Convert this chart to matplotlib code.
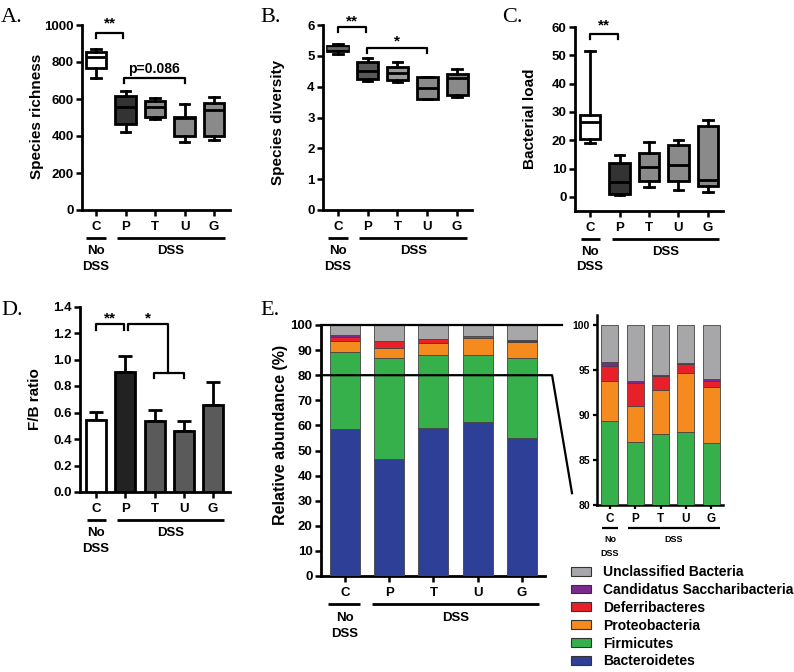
import matplotlib
matplotlib.use('Agg')
import matplotlib.pyplot as plt
import matplotlib.transforms as mtransforms
from matplotlib.patches import Patch

W, H = 794, 672
plt.rcParams['font.family'] = ['Liberation Sans', 'DejaVu Sans']
plt.rcParams['font.weight'] = 'bold'
plt.rcParams['axes.labelweight'] = 'bold'

groups = ['C', 'P', 'T', 'U', 'G']

# A: species richness (box stats)
rich_whislo = [712, 420, 492, 369, 378]
rich_q1 = [766, 463, 501, 402, 400]
rich_med = [829, 559, 555, 495, 540]
rich_q3 = [856, 618, 591, 505, 580]
rich_whishi = [868, 643, 604, 571, 613]

# B: species diversity
div_whislo = [5.07, 4.19, 4.14, 3.59, 3.68]
div_q1 = [5.17, 4.25, 4.22, 3.59, 3.73]
div_med = [5.25, 4.51, 4.45, 3.97, 4.27]
div_q3 = [5.33, 4.79, 4.65, 4.30, 4.41]
div_whishi = [5.37, 4.94, 4.79, 4.30, 4.56]

# C: bacterial load
load_whislo = [19.0, 0.5, 3.5, 2.3, 1.8]
load_q1 = [20.4, 1.0, 5.5, 5.7, 3.8]
load_med = [26.4, 5.2, 10.4, 11.1, 6.1]
load_q3 = [28.8, 12.0, 15.5, 18.2, 25.2]
load_whishi = [51.5, 14.7, 19.2, 20.2, 27.2]

# D: F/B ratio
fb_mean = [0.546, 0.903, 0.533, 0.463, 0.657]
fb_err = [0.055, 0.121, 0.087, 0.075, 0.175]

# E: relative abundance (%)
taxa = ['Bacteroidetes', 'Firmicutes', 'Proteobacteria', 'Deferribacteres',
        'Candidatus Saccharibacteria', 'Unclassified Bacteria']
bacteroidetes = [58.4, 46.5, 58.8, 61.2, 55.0]
firmicutes = [30.9, 40.5, 29.1, 26.9, 31.9]
proteobacteria = [4.5, 4.0, 4.9, 6.6, 6.25]
deferribacteres = [1.6, 2.6, 1.5, 1.0, 0.65]
candidatus = [0.45, 0.15, 0.15, 0.1, 0.15]
unclassified = [4.15, 6.25, 5.55, 4.2, 6.05]
taxa_colors = ['#2E3F97', '#35B04A', '#F58A1F', '#E8202A', '#7B2A8C', '#A7A7A9']

fig = plt.figure(figsize=(7.94, 6.72), dpi=100)


def fx(x):
    return x / W


def fy(y):
    return 1 - y / H


def add_ax(l, t, r, b):
    return fig.add_axes([l / W, 1 - b / H, (r - l) / W, (b - t) / H])


def style(ax, fs=9.5, lw=2, tl=4):
    for s in ['top', 'right']:
        ax.spines[s].set_visible(False)
    for s in ['left', 'bottom']:
        ax.spines[s].set_linewidth(lw)
    ax.tick_params(width=lw * 0.9, length=tl, labelsize=fs, pad=2)
    ax.tick_params(axis='x', pad=4)
    ax.set_xticks(range(len(groups)))
    ax.set_xticklabels(groups)


def group_labels(ax, yline, yno, ydss, c_rng, d_rng, fs=9.5, lw=2):
    tr = mtransforms.blended_transform_factory(ax.transData, fig.transFigure)
    ax.plot(c_rng, [fy(yline)] * 2, transform=tr, color='k', lw=lw,
            clip_on=False, solid_capstyle='butt')
    ax.plot(d_rng, [fy(yline)] * 2, transform=tr, color='k', lw=lw,
            clip_on=False, solid_capstyle='butt')
    ax.text(0, fy(yno), 'No', transform=tr, ha='center', va='center', fontsize=fs)
    ax.text(0, fy(ydss), 'DSS', transform=tr, ha='center', va='center', fontsize=fs)
    ax.text(sum(d_rng) / 2, fy(yno), 'DSS', transform=tr, ha='center',
            va='center', fontsize=fs)


def bracket(ax, x1, x2, y, drop, text, ty, fs=11):
    ax.plot([x1, x1, x2, x2], [y - drop, y, y, y - drop], color='k', lw=1.6,
            clip_on=False)
    ax.text((x1 + x2) / 2, ty, text, ha='center', va='center', fontsize=fs,
            clip_on=False)


def boxes(ax, lo, q1, med, q3, hi, colors, medcolors=None):
    stats = []
    for i in range(len(groups)):
        stats.append(dict(whislo=lo[i], q1=q1[i], med=med[i], q3=q3[i],
                          whishi=hi[i], label=groups[i]))
    bp = ax.bxp(stats, positions=range(len(groups)), widths=0.7,
                patch_artist=True, showfliers=False, capwidths=0.32,
                boxprops=dict(linewidth=2, edgecolor='k'),
                whiskerprops=dict(linewidth=2, color='k'),
                capprops=dict(linewidth=2, color='k'),
                medianprops=dict(linewidth=2, color='k'))
    for i, b in enumerate(bp['boxes']):
        b.set_facecolor(colors[i])
    if medcolors:
        for i, m in enumerate(bp['medians']):
            m.set_color(medcolors[i])
    ax.set_xticks(range(len(groups)))
    ax.set_xticklabels(groups)


# ---------- Panel A ----------
axA = add_ax(82, 25, 230, 210)
boxes(axA, rich_whislo, rich_q1, rich_med, rich_q3, rich_whishi,
      ['white', '#333333', '#8a8a8a', '#8a8a8a', '#8a8a8a'])
axA.set_xlim(-0.475, 4.54)
axA.set_ylim(0, 1000)
axA.set_yticks([0, 200, 400, 600, 800, 1000])
style(axA)
bracket(axA, 0, 0.93, 957, 27, '**', 1010)
bracket(axA, 0.95, 3.0, 713, 27, 'p=0.086', 760, fs=10)
group_labels(axA, 238, 251, 267, (-0.33, 0.33), (0.7, 4.37))
fig.text(fx(37), fy(116), 'Species richness', rotation=90, ha='center',
         va='center', fontsize=11)

# ---------- Panel B ----------
axB = add_ax(323, 25, 472, 210)
boxes(axB, div_whislo, div_q1, div_med, div_q3, div_whishi,
      ['#1e1e1e', '#585858', '#9a9a9a', '#8a8a8a', '#8a8a8a'],
      medcolors=['#666666', 'k', 'k', 'k', 'k'])
axB.set_xlim(-0.5, 4.5)
axB.set_ylim(0, 6)
axB.set_yticks(range(7))
style(axB)
bracket(axB, 0, 0.93, 5.93, 0.16, '**', 6.12)
bracket(axB, 0.97, 3.0, 5.26, 0.16, '*', 5.45)
group_labels(axB, 238, 251, 267, (-0.34, 0.34), (0.71, 4.34))
fig.text(fx(278), fy(122), 'Species diversity', rotation=90, ha='center',
         va='center', fontsize=11)

# ---------- Panel C ----------
axC = add_ax(575, 27, 723, 211)
boxes(axC, load_whislo, load_q1, load_med, load_q3, load_whishi,
      ['white', '#333333', '#8a8a8a', '#8a8a8a', '#8a8a8a'])
axC.set_xlim(-0.51, 4.51)
axC.set_ylim(-5, 60)
axC.set_yticks(range(0, 61, 10))
style(axC)
bracket(axC, 0, 0.95, 57.5, 1.8, '**', 60.5)
group_labels(axC, 239, 252, 267, (-0.3, 0.34), (0.75, 4.37))
fig.text(fx(530), fy(119), 'Bacterial load', rotation=90, ha='center',
         va='center', fontsize=11)

# ---------- Panel D ----------
axD = add_ax(80, 306.5, 230, 492)
axD.bar(range(5), fb_mean, width=0.68,
        color=['white', '#222222', '#5a5a5a', '#5a5a5a', '#5a5a5a'],
        edgecolor='k', linewidth=2, zorder=3)
axD.errorbar(range(5), fb_mean, yerr=[[0] * 5, fb_err], fmt='none',
             ecolor='k', elinewidth=2, capsize=5, capthick=2, zorder=2)
axD.set_xlim(-0.55, 4.58)
axD.set_ylim(0, 1.4)
axD.set_yticks([0, 0.2, 0.4, 0.6, 0.8, 1.0, 1.2, 1.4])
axD.set_yticklabels(['0.0', '0.2', '0.4', '0.6', '0.8', '1.0', '1.2', '1.4'])
style(axD)
bracket(axD, 0, 0.95, 1.268, 0.045, '**', 1.31)
axD.plot([1.08, 1.08, 2.46, 2.46], [1.22, 1.268, 1.268, 0.9], color='k',
         lw=1.6, clip_on=False)
bracket(axD, 1.98, 3.0, 0.9, 0.04, '', 0.9)
axD.text(1.77, 1.31, '*', ha='center', va='center', fontsize=11)
group_labels(axD, 520, 533, 549, (-0.31, 0.34), (0.72, 4.38))
fig.text(fx(35), fy(399), 'F/B ratio', rotation=90, ha='center',
         va='center', fontsize=11)

# ---------- Panel E ----------
layers = [bacteroidetes, firmicutes, proteobacteria, deferribacteres,
          candidatus, unclassified]


def stacked(ax, width):
    bottom = [0] * 5
    for vals, col in zip(layers, taxa_colors):
        ax.bar(range(5), vals, bottom=bottom, width=width, color=col,
               edgecolor='#444444', linewidth=0.6, zorder=3)
        bottom = [b + v for b, v in zip(bottom, vals)]


axE = add_ax(321, 325, 545, 576)
stacked(axE, 0.68)
axE.set_xlim(-0.54, 4.52)
axE.set_ylim(0, 100)
axE.set_yticks(range(0, 101, 10))
style(axE)
axE.plot([-0.54, 4.90], [100, 100], color='k', lw=1.6, clip_on=False, zorder=5)
axE.plot([-0.54, 4.68, 5.13], [80, 80, 33], color='k', lw=1.6, clip_on=False,
         zorder=5)
group_labels(axE, 604, 618, 634, (-0.38, 0.34), (0.61, 4.38))
fig.text(fx(280), fy(435), 'Relative abundance (%)', rotation=90, ha='center',
         va='center', fontsize=11.5)

# inset
axI = add_ax(597, 315, 723, 505)
stacked(axI, 0.67)
axI.set_xlim(-0.51, 4.47)
axI.set_ylim(80, 101.1)
axI.set_yticks([80, 85, 90, 95, 100])
style(axI, fs=7.5, lw=1.8, tl=3)
axI.tick_params(axis='x', labelsize=8.5, pad=3)
group_labels(axI, 528, 540, 553, (-0.32, 0.32), (0.71, 4.36), fs=6.5, lw=1.6)

handles = [Patch(facecolor=c, edgecolor='#333333', linewidth=0.8)
           for c in taxa_colors][::-1]
fig.legend(handles, taxa[::-1], loc='upper left',
           bbox_to_anchor=(fx(571), fy(565)), frameon=False, fontsize=10,
           handlelength=1.45, handleheight=0.6, handletextpad=0.85,
           labelspacing=0.28, borderpad=0, borderaxespad=0)

# panel letters
for lbl, x, y in [('A.', 1, 22), ('B.', 260, 22), ('C.', 502, 22),
                  ('D.', 1, 315), ('E.', 260, 315)]:
    fig.text(fx(x), fy(y), lbl, fontsize=16, family='Liberation Serif',
             weight='normal', va='baseline', ha='left')

fig.savefig('out.png', dpi=100)
